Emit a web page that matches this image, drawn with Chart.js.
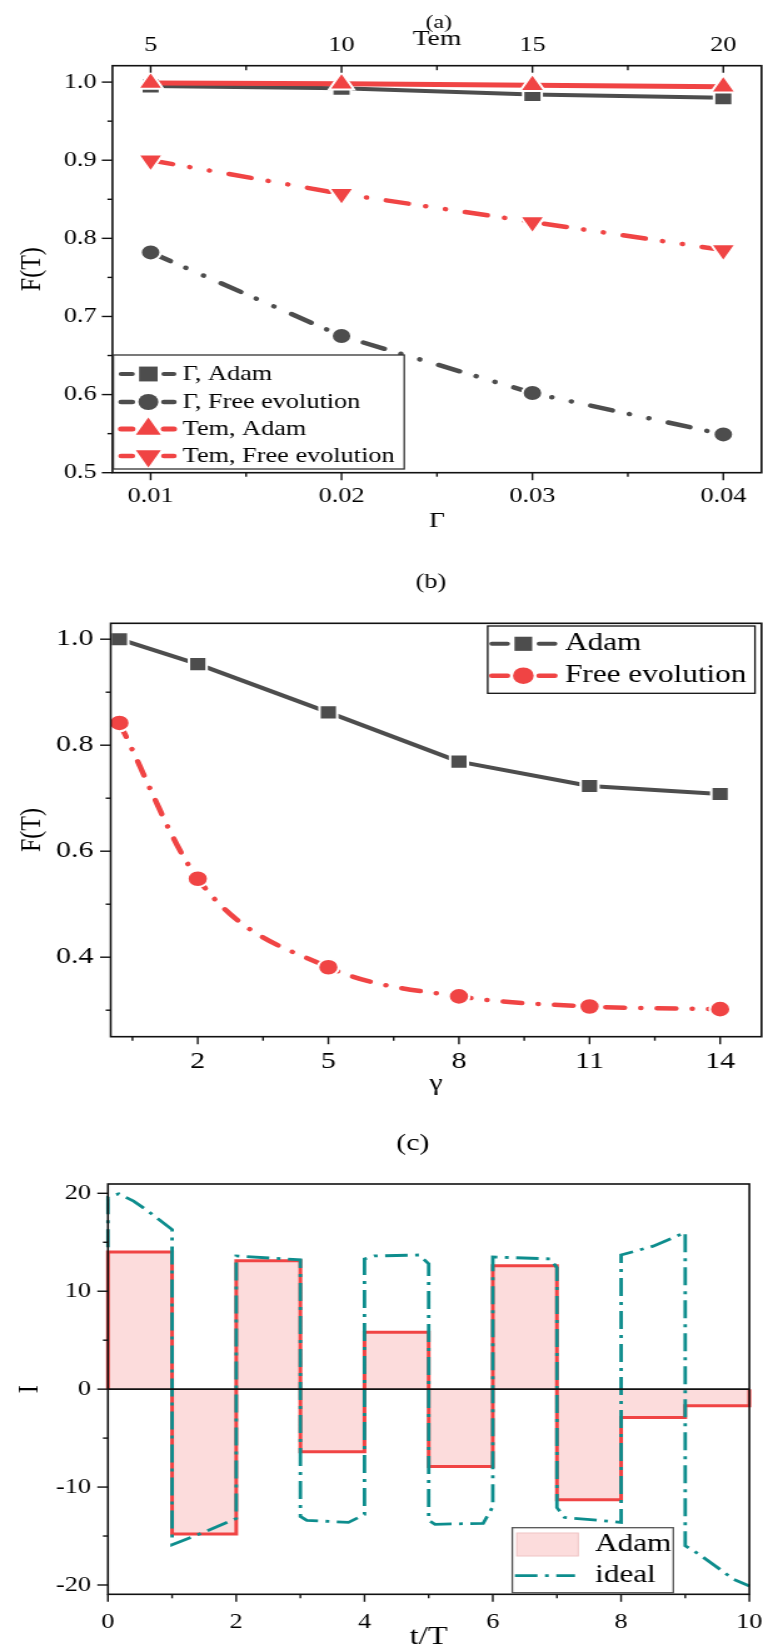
<!DOCTYPE html>
<html>
<head>
<meta charset="utf-8">
<script src="https://cdn.jsdelivr.net/npm/chart.js"></script>
<style>
  html, body { margin: 0; padding: 0; background: #fff; }
  body { width: 763px; height: 1650px; position: relative; overflow: hidden; }
  .panel { position: absolute; left: 0; width: 610px; transform-origin: 0 0; transform: scaleX(1.2508); }
  canvas { display: block; }
</style>
</head>
<body>
<div class="panel" style="top:0px"><canvas id="chartA" width="610" height="560"></canvas></div>
<div class="panel" style="top:560px"><canvas id="chartB" width="610" height="550"></canvas></div>
<div class="panel" style="top:1110px"><canvas id="chartC" width="610" height="540"></canvas></div>
<script>
// ---------------- panel (a): fidelity versus decay rate / temperature ----------------
const gammaTicks = [0.01, 0.02, 0.03, 0.04];
const gammaMinor = [0.015, 0.025, 0.035];
const temTicks = [5, 10, 15, 20];
const temMinor = [7.5, 12.5, 17.5];
const fidTicksA = [0.5, 0.6, 0.7, 0.8, 0.9, 1.0];
const fidMinorA = [0.55, 0.65, 0.75, 0.85, 0.95];
const gammaAdam = [0.995, 0.992, 0.984, 0.980];
const gammaFree = [0.782, 0.675, 0.602, 0.549];
const temAdam   = [0.999, 0.998, 0.996, 0.994];
const temFree   = [0.900, 0.857, 0.821, 0.785];

// ---------------- panel (b): fidelity versus coupling gamma ----------------
const gammaB = [0.2, 2, 5, 8, 11, 14];
const gammaTicksB = [2, 5, 8, 11, 14];
const gammaMinorB = [0.5, 3.5, 6.5, 9.5, 12.5];
const fidTicksB = [0.4, 0.6, 0.8, 1.0];
const fidMinorB = [0.3, 0.5, 0.7, 0.9];
const adamB = [1.000, 0.953, 0.862, 0.769, 0.723, 0.708];
const freeB = [0.842, 0.548, 0.381, 0.326, 0.307, 0.302];

// ---------------- panel (c): control field I over time ----------------
const timeTicks = [0, 2, 4, 6, 8, 10];
const timeMinor = [1, 3, 5, 7, 9];
const fieldTicks = [-20, -10, 0, 10, 20];
const fieldMinor = [-15, -5, 5, 15];
// Adam: one constant level per period [k, k+1]
const adamLevels = [14.0, -14.8, 13.1, -6.4, 5.8, -7.9, 12.6, -11.3, -2.9, -1.7];
// ideal field, sampled along the curve (repeated t = jump)
const idealT = [0, 0, 0.17, 0.4, 0.6, 0.8, 1,
                1, 1.5, 2,
                2, 3,
                3, 3.1, 3.75, 4,
                4, 4.15, 4.85, 5,
                5, 5.1, 5.85, 6,
                6, 6.9, 7,
                7, 7.12, 8,
                8, 8.5, 9,
                9, 9.2, 9.5, 9.75, 10];
const idealI = [14.5, 19.6, 19.95, 19.2, 18.3, 17.3, 16.3,
                -15.9, -14.6, -13.2,
                13.6, 13.2,
                -13.0, -13.4, -13.6, -12.8,
                13.3, 13.6, 13.7, 12.8,
                -13.4, -13.8, -13.7, -12.0,
                13.5, 13.3, 12.4,
                -12.1, -13.1, -13.6,
                13.7, 14.6, 16.0,
                -16.0, -16.8, -18.2, -19.4, -20.1];

const SERIF = "'Liberation Serif', 'Times New Roman', serif";
const DARK = '#4d4d4d';
const RED = '#f04444';
const TEAL = '#0d8d8d';
const PINK = '#fcdcdc';

// ---------- helpers ----------
function axis(pos, min, max, ticks, fmt, fontSize, pad, size, title) {
  return {
    type: 'linear', position: pos, min: min, max: max, bounds: 'data',
    grid: { display: false, drawTicks: false },
    border: { display: false },
    afterBuildTicks: s => { s.ticks = ticks.map(v => ({ value: v })); },
    afterFit: s => {
      if (pos === 'left' || pos === 'right') s.width = size; else s.height = size;
      s.paddingLeft = s.paddingRight = s.paddingTop = s.paddingBottom = 0;
    },
    ticks: {
      padding: pad, color: '#000', autoSkip: false, maxRotation: 0,
      font: { family: SERIF, size: fontSize, lineHeight: 1.2 },
      callback: v => fmt(v)
    },
    title: title ? {
      display: true, text: title.text, color: '#000',
      font: { family: SERIF, size: title.size, lineHeight: 1.2 },
      padding: { top: title.top || 0, bottom: title.bottom || 0 }
    } : { display: false }
  };
}

function markerPath(ctx, style, x, y, r, rot) {
  ctx.beginPath();
  if (style === 'circle') {
    ctx.arc(x, y, r, 0, Math.PI * 2);
  } else if (style === 'rect') {
    const h = Math.SQRT1_2 * r;
    ctx.rect(x - h, y - h, 2 * h, 2 * h);
  } else if (style === 'triangle') {
    let a = (rot || 0) * Math.PI / 180;
    ctx.moveTo(x + Math.sin(a) * r, y - Math.cos(a) * r);
    a += 2 * Math.PI / 3;
    ctx.lineTo(x + Math.sin(a) * r, y - Math.cos(a) * r);
    a += 2 * Math.PI / 3;
    ctx.lineTo(x + Math.sin(a) * r, y - Math.cos(a) * r);
    ctx.closePath();
  }
}

// frame around the plot, tick marks (major + minor) and optional zero line
const axesFrame = {
  id: 'axesFrame',
  afterDatasetsDraw(chart, args, o) {
    const { ctx, chartArea: a } = chart;
    ctx.save();
    ctx.strokeStyle = '#111';
    ctx.lineCap = 'butt';
    if (o.zeroLine) {
      const y0 = chart.scales.y.getPixelForValue(0);
      ctx.lineWidth = 1.6;
      ctx.beginPath(); ctx.moveTo(a.left, y0); ctx.lineTo(a.right, y0); ctx.stroke();
    }
    ctx.lineWidth = 1.6;
    ctx.strokeRect(a.left, a.top, a.right - a.left, a.bottom - a.top);
    ctx.lineWidth = 1.4;
    (o.marks || []).forEach(m => {
      const s = chart.scales[m.scale];
      const put = (v, len) => {
        const p = s.getPixelForValue(v);
        ctx.beginPath();
        if (m.side === 'left') { ctx.moveTo(a.left, p); ctx.lineTo(a.left - len, p); }
        else if (m.side === 'bottom') { ctx.moveTo(p, a.bottom); ctx.lineTo(p, a.bottom + len); }
        else if (m.side === 'top') { ctx.moveTo(p, a.top); ctx.lineTo(p, a.top + len); }
        ctx.stroke();
      };
      m.major.forEach(v => put(v, m.len));
      m.minor.forEach(v => put(v, m.minorLen));
    });
    ctx.restore();
  }
};

// boxed legend placed inside the plot
const boxLegend = {
  id: 'boxLegend',
  afterDraw(chart, args, o) {
    if (!o || !o.box) return;
    const ctx = chart.ctx;
    const b = o.box;
    ctx.save();
    ctx.fillStyle = '#fff';
    ctx.fillRect(b.x, b.y, b.w, b.h);
    ctx.strokeStyle = o.borderColor || '#222';
    ctx.lineWidth = 1.3;
    ctx.strokeRect(b.x, b.y, b.w, b.h);
    chart.data.datasets.forEach((ds, i) => {
      const y = o.rows[i];
      if (ds.fill) {
        const sw = o.swatch;
        ctx.fillStyle = ds.backgroundColor;
        ctx.fillRect(sw.x, y - sw.h / 2, sw.w, sw.h);
        ctx.strokeStyle = '#efc4c4';
        ctx.lineWidth = 1;
        ctx.strokeRect(sw.x, y - sw.h / 2, sw.w, sw.h);
      } else if (ds.pointRadius > 0) {
        ctx.strokeStyle = ds.borderColor;
        ctx.lineWidth = ds.borderWidth;
        ctx.lineCap = 'round';
        ctx.setLineDash([]);
        o.segments.forEach(sg => {
          ctx.beginPath(); ctx.moveTo(sg[0], y); ctx.lineTo(sg[1], y); ctx.stroke();
        });
        markerPath(ctx, ds.pointStyle, o.markerX, y, ds.pointRadius, ds.pointRotation);
        ctx.fillStyle = ds.pointBackgroundColor;
        ctx.fill();
      } else {
        ctx.strokeStyle = ds.borderColor;
        ctx.lineWidth = ds.borderWidth;
        ctx.lineCap = 'butt';
        ctx.setLineDash(ds.borderDash || []);
        ctx.beginPath(); ctx.moveTo(o.lineSample[0], y); ctx.lineTo(o.lineSample[1], y); ctx.stroke();
        ctx.setLineDash([]);
      }
      ctx.fillStyle = '#000';
      ctx.font = o.fontSize + 'px ' + SERIF;
      ctx.textBaseline = 'middle';
      ctx.textAlign = 'left';
      ctx.fillText(ds.label, o.textX, y);
    });
    ctx.restore();
  }
};

// panel caption such as (a)
const panelCaption = {
  id: 'panelCaption',
  afterDraw(chart, args, o) {
    if (!o || !o.text) return;
    const ctx = chart.ctx;
    ctx.save();
    ctx.fillStyle = '#000';
    ctx.font = o.size + 'px ' + SERIF;
    ctx.textAlign = 'center';
    ctx.textBaseline = 'middle';
    ctx.fillText(o.text, o.x, o.y);
    ctx.restore();
  }
};

const base = {
  responsive: false, animation: false, devicePixelRatio: 1, events: []
};

function xy(xs, ys) { return xs.map((x, i) => ({ x: x, y: ys[i] })); }

function lineSet(label, xs, ys, color, width, style, radius, rot, dash, xAxis, order) {
  return {
    label: label, data: xy(xs, ys), xAxisID: xAxis || 'x', yAxisID: 'y', order: order,
    borderColor: color, borderWidth: width, borderDash: dash || [], borderCapStyle: 'round',
    borderJoinStyle: 'round',
    pointStyle: style, pointRadius: radius, pointRotation: rot || 0,
    pointBackgroundColor: color, pointBorderColor: '#fff', pointBorderWidth: 2,
    tension: 0, fill: false, clip: false
  };
}

const dashDotDot = [18, 14, 0.1, 16, 0.1, 16];
const dashDot = [15, 13, 0.1, 13];

// ---------- (a) ----------
new Chart(document.getElementById('chartA'), {
  type: 'line',
  data: {
    datasets: [
      lineSet('\u0393, Adam', gammaTicks, gammaAdam, DARK, 4, 'rect', 10.5, 0, [], 'x', 3),
      lineSet('\u0393, Free evolution', gammaTicks, gammaFree, DARK, 4.5, 'circle', 8, 0, dashDotDot, 'x', 2),
      lineSet('Tem, Adam', temTicks, temAdam, RED, 5, 'triangle', 11.5, 0, [], 'x2', 1),
      lineSet('Tem, Free evolution', temTicks, temFree, RED, 4.5, 'triangle', 11.5, 180, dashDotDot, 'x2', 0)
    ]
  },
  options: Object.assign({}, base, {
    layout: { autoPadding: false, padding: { left: 0, right: 1.2, top: 0, bottom: 0 } },
    scales: {
      x: axis('bottom', 0.008, 0.042, gammaTicks, v => v.toFixed(2), 21, 11.4, 87.3,
              { text: '\u0393', size: 22, bottom: 25.1 }),
      x2: axis('top', 4, 21, temTicks, v => String(v), 21, 7.3, 65.7,
               { text: 'Tem', size: 22, top: 26.5 }),
      y: axis('left', 0.5, 1.021, fidTicksA, v => v.toFixed(1), 21, 12.6, 89.9,
              { text: 'F(T)', size: 24, top: 10.9 })
    },
    plugins: {
      legend: { display: false }, tooltip: { enabled: false },
      axesFrame: { marks: [
        { scale: 'x', side: 'bottom', major: gammaTicks, minor: gammaMinor, len: 7.5, minorLen: 4 },
        { scale: 'x2', side: 'top', major: temTicks, minor: temMinor, len: 7, minorLen: 4.5 },
        { scale: 'y', side: 'left', major: fidTicksA, minor: fidMinorA, len: 8.5, minorLen: 4 }
      ] },
      boxLegend: {
        box: { x: 90.6, y: 355, w: 232.6, h: 114 }, borderColor: '#333',
        rows: [374, 402, 429, 456], segments: [[96.8, 105.8], [131, 139]],
        markerX: 118.6, textX: 146.1, fontSize: 21
      },
      panelCaption: { text: '(a)', x: 350.7, y: 22.7, size: 19 }
    }
  }),
  plugins: [axesFrame, boxLegend, panelCaption]
});

// ---------- (b) ----------
const freeSet = lineSet('Free evolution', gammaB, freeB, RED, 4.5, 'circle', 8.3, 0, dashDot, 'x', 1);
freeSet.cubicInterpolationMode = 'monotone';
freeSet.tension = 0.4;
new Chart(document.getElementById('chartB'), {
  type: 'line',
  data: {
    datasets: [
      lineSet('Adam', gammaB, adamB, DARK, 4, 'rect', 10, 0, [], 'x', 0),
      freeSet
    ]
  },
  options: Object.assign({}, base, {
    layout: { autoPadding: false, padding: { left: 0, right: 1.2, top: 63.3, bottom: 0 } },
    scales: {
      x: axis('bottom', 0, 14.95, gammaTicksB, v => String(v), 24, 10.6, 73.3,
              { text: '\u03b3', size: 24, bottom: 12.3 }),
      y: axis('left', 0.25, 1.03, fidTicksB, v => v.toFixed(1), 24, 13.8, 88.5,
              { text: 'F(T)', size: 24, top: 10.9 })
    },
    plugins: {
      legend: { display: false }, tooltip: { enabled: false },
      axesFrame: { marks: [
        { scale: 'x', side: 'bottom', major: gammaTicksB, minor: gammaMinorB, len: 7.5, minorLen: 4 },
        { scale: 'y', side: 'left', major: fidTicksB, minor: fidMinorB, len: 8.5, minorLen: 4 }
      ] },
      boxLegend: {
        box: { x: 389.9, y: 66, w: 213.7, h: 67.3 }, borderColor: '#111',
        rows: [83.8, 115.7], segments: [[393.2, 405.7], [431, 443.6]],
        markerX: 418.4, textX: 451.7, fontSize: 25
      },
      panelCaption: { text: '(b)', x: 344.6, y: 22, size: 21 }
    }
  }),
  plugins: [axesFrame, boxLegend, panelCaption]
});

// ---------- (c) ----------
const adamPoints = [{ x: 0, y: 0 }]
  .concat(adamLevels.map((v, k) => ({ x: k, y: v })))
  .concat([{ x: adamLevels.length, y: adamLevels[adamLevels.length - 1] }, { x: adamLevels.length, y: 0 }]);

new Chart(document.getElementById('chartC'), {
  type: 'line',
  data: {
    datasets: [
      {
        label: 'Adam', data: adamPoints, order: 1,
        stepped: 'before', borderColor: RED, borderWidth: 3,
        backgroundColor: PINK, fill: 'origin', pointRadius: 0, clip: false
      },
      {
        label: 'ideal', data: xy(idealT, idealI), order: 0,
        borderColor: TEAL, borderWidth: 2.8, borderDash: [18, 6, 3, 6],
        borderCapStyle: 'butt', pointRadius: 0, tension: 0, fill: false, clip: false
      }
    ]
  },
  options: Object.assign({}, base, {
    layout: { autoPadding: false, padding: { left: 0, right: 10.9, top: 74, bottom: 0 } },
    scales: {
      x: axis('bottom', 0, 10, timeTicks, v => String(v), 21, 15.3, 55.7,
              { text: 't/T', size: 26, bottom: -2.3 }),
      y: axis('left', -20.95, 20.95, fieldTicks, v => String(v), 21, 13.5, 86.3,
              { text: 'I', size: 24, top: 8.9 })
    },
    plugins: {
      legend: { display: false }, tooltip: { enabled: false },
      axesFrame: { zeroLine: true, marks: [
        { scale: 'x', side: 'bottom', major: timeTicks, minor: timeMinor, len: 7.5, minorLen: 4 },
        { scale: 'y', side: 'left', major: fieldTicks, minor: fieldMinor, len: 8.5, minorLen: 4 }
      ] },
      boxLegend: {
        box: { x: 409.6, y: 417.7, w: 128.7, h: 65 }, borderColor: '#555',
        rows: [434.5, 465.7], swatch: { x: 413.1, w: 49.2, h: 23 },
        lineSample: [411.7, 459.7], textX: 475.7, fontSize: 25
      },
      panelCaption: { text: '(c)', x: 330, y: 33.3, size: 24 }
    }
  }),
  plugins: [axesFrame, boxLegend, panelCaption]
});
</script>
</body>
</html>
